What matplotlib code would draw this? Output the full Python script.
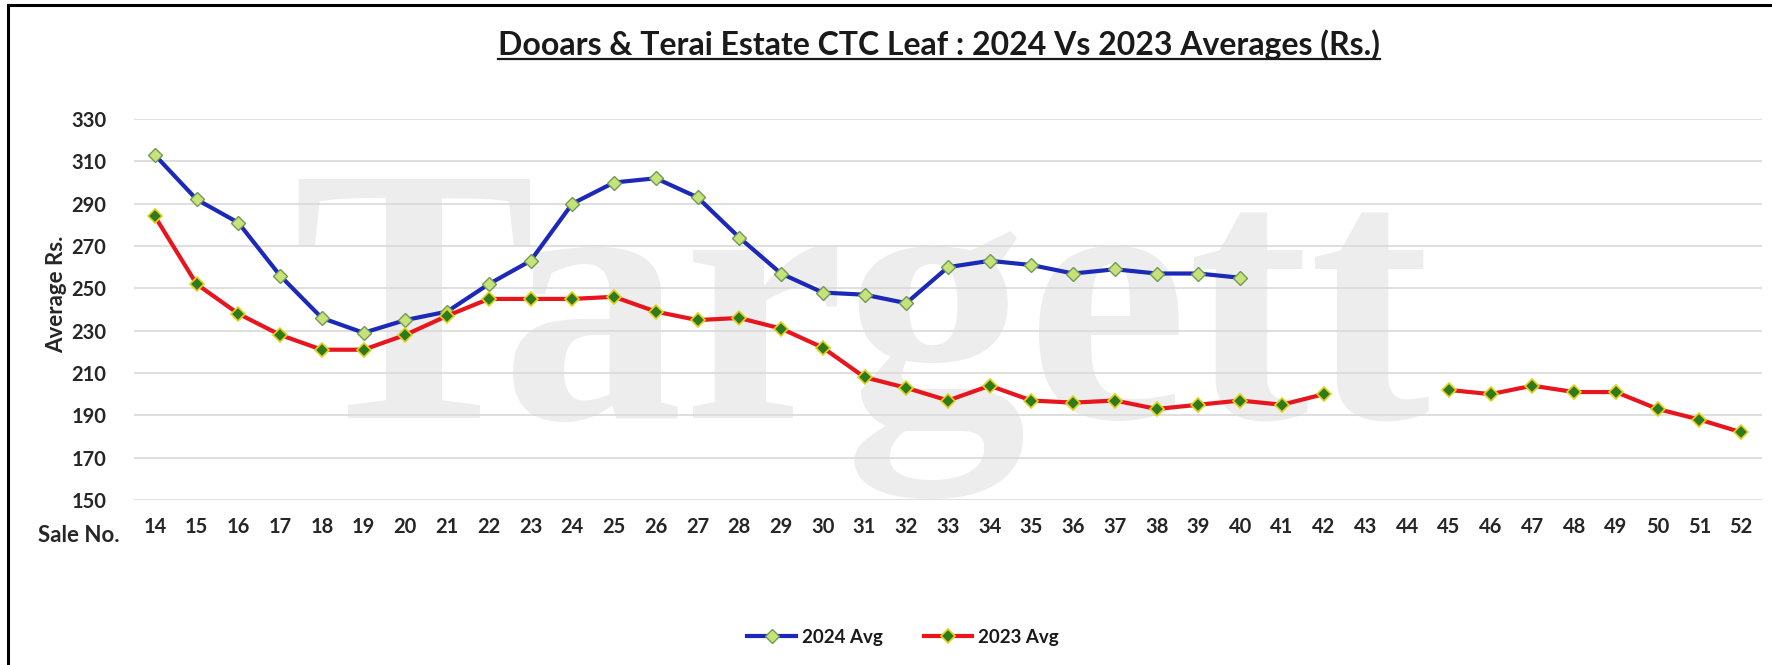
import matplotlib
matplotlib.use("Agg")
import matplotlib.pyplot as plt
from matplotlib.lines import Line2D
import numpy as np

# ---- data ----
sale_no = list(range(14, 53))
avg_2024 = [313, 292, 281, 256, 236, 229, 235, 239, 252, 263, 290, 300, 302,
            293, 274, 257, 248, 247, 243, 260, 263, 261, 257, 259, 257, 257, 255]
avg_2023 = [284, 252, 238, 228, 221, 221, 228, 237, 245, 245, 245, 246, 239,
            235, 236, 231, 222, 208, 203, 197, 204, 197, 196, 197, 193, 195, 197,
            195, 200, None, None, 202, 200, 204, 201, 201, 193, 188, 182]
y_ticks = list(range(150, 331, 20))
title = "Dooars & Terai Estate CTC Leaf : 2024 Vs 2023 Averages (Rs.)"
series_names = ["2024 Avg", "2023 Avg"]

plt.rcParams['font.family'] = ['Lato', 'DejaVu Sans']

W, H = 1772, 665
fig = plt.figure(figsize=(W / 100, H / 100), dpi=100)
fig.patch.set_facecolor("white")

ax = fig.add_axes([134 / W, 1 - 500 / H, (1762 - 134) / W, (500 - 119) / H])
ax.patch.set_alpha(0)

# watermark (behind everything in the axes)
ax.text(0.447, 0.215, "Targett", transform=ax.transAxes, fontsize=262,
        family="Liberation Serif", fontweight="bold",
        color="#ededed", ha="center", va="baseline", zorder=0.1,
        clip_on=False)

x24 = np.array(sale_no[:len(avg_2024)], dtype=float)
y24 = np.array(avg_2024, dtype=float)
x23 = np.array(sale_no, dtype=float)
y23 = np.array([np.nan if v is None else v for v in avg_2023], dtype=float)

ax.plot(x24, y24, color="#1c28b8", lw=3.0, marker="D", markersize=7,
        markerfacecolor="#c8e27a", markeredgecolor="#6f9a56",
        markeredgewidth=1.0, label=series_names[0], zorder=3,
        solid_joinstyle="round")
ax.plot(x23, y23, color="#e8141e", lw=3.0, marker="D", markersize=7,
        markerfacecolor="#2f7a1c", markeredgecolor="#e3d21a",
        markeredgewidth=1.2, label=series_names[1], zorder=3,
        solid_joinstyle="round")

ax.set_xlim(13.5, 52.5)
ax.set_ylim(150, 330)
ax.set_yticks(y_ticks)
ax.set_xticks(sale_no)
ax.set_xticklabels([str(s) for s in sale_no])
ax.grid(axis="y", color="#d9d9d9", lw=1.2, zorder=0.5)
ax.set_axisbelow(True)
for s in ax.spines.values():
    s.set_visible(False)
ax.tick_params(axis="both", length=0, labelsize=14.5, labelcolor="#262626")
ax.tick_params(axis="x", pad=12)
ax.tick_params(axis="y", pad=20)
for lab in ax.get_xticklabels() + ax.get_yticklabels():
    lab.set_fontweight("bold")

fig.text(57 / W, 1 - 294 / H, "Average Rs.", rotation=90, ha="center",
         va="center", fontsize=16, fontweight="bold", color="#262626")
fig.text(79 / W, 1 - 535 / H, "Sale No.", ha="center", va="center",
         fontsize=16, fontweight="bold", color="#262626")

t = fig.text(939 / W, 1 - 45 / H, title, ha="center", va="center",
             fontsize=23, fontweight="bold", color="#1a1a1a")

leg = fig.legend(loc="center", bbox_to_anchor=(903 / W, 1 - 637 / H),
                 ncol=2, frameon=False, fontsize=13.5, handlelength=2.6,
                 columnspacing=2.2, handletextpad=0.3)
for txt in leg.get_texts():
    txt.set_fontweight("bold")
    txt.set_color("#1a1a1a")

# frame lines (left and top)
fig.add_artist(Line2D([8 / W, 8 / W], [0, 1 - 5 / H], color="black", lw=2.2,
                      transform=fig.transFigure))
fig.add_artist(Line2D([8 / W, 1], [1 - 5 / H, 1 - 5 / H], color="black",
                      lw=2.2, transform=fig.transFigure))

# underline title
fig.canvas.draw()
bb = t.get_window_extent(renderer=fig.canvas.get_renderer())
fig.add_artist(Line2D([bb.x0 / W, bb.x1 / W], [(bb.y0 + 1) / H, (bb.y0 + 1) / H],
                      color="#1a1a1a", lw=1.6, transform=fig.transFigure))

fig.savefig("out.png", dpi=100, facecolor="white")
